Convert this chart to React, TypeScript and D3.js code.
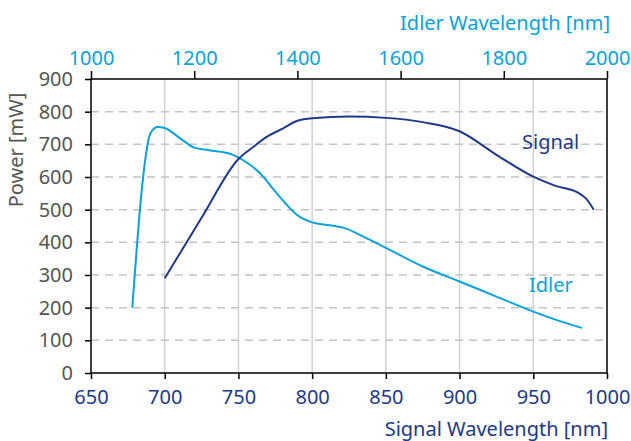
import React, { useEffect, useRef } from 'react';
import * as d3 from 'd3';

// signal power vs signal wavelength
const signalData: [number, number][] = [
  [700, 290], [725, 475], [750, 655], [760, 692], [770, 725], [780, 748],
  [790, 772], [800, 780], [825, 785], [850, 781], [875, 768], [900, 740],
  [925, 668], [950, 601], [965, 573], [980, 553], [986, 533], [991, 500],
];

// idler power, placed on the signal wavelength axis
const idlerData: [number, number][] = [
  [678, 200], [681, 380], [684, 540], [687, 660], [690, 730], [695, 753],
  [700, 750], [710, 720], [720, 690], [730, 682], [745, 670], [753, 652],
  [765, 610], [776, 550], [790, 483], [800, 461], [812, 452], [823, 442],
  [835, 417], [850, 383], [875, 326], [900, 280], [925, 234], [950, 188],
  [966, 162], [983, 138],
];

const signalTicks = [650, 700, 750, 800, 850, 900, 950, 1000];
const idlerTicks = [1000, 1200, 1400, 1600, 1800, 2000];
const powerTicks = [0, 100, 200, 300, 400, 500, 600, 700, 800, 900];

const SIGNAL = '#21398a';
const IDLER = '#0aa2dc';
const GREY = '#555555';
const FONT = '"Noto Sans", sans-serif';
const FS = 20;

const App: React.FC = () => {
  const svgRef = useRef<SVGSVGElement | null>(null);

  useEffect(() => {
    const width = 631;
    const height = 441;
    const margin = { top: 79, right: 24, bottom: 68, left: 91 };

    const x = d3.scaleLinear().domain([650, 1000]).range([margin.left, width - margin.right]);
    const xTop = d3.scaleLinear().domain([1000, 2000]).range([margin.left, width - margin.right]);
    const y = d3.scaleLinear().domain([0, 900]).range([height - margin.bottom, margin.top]);

    const svg = d3.select(svgRef.current)
      .attr('width', width)
      .attr('height', height);
    svg.selectAll('*').remove();

    // vertical grid (solid)
    svg.append('g')
      .selectAll('line')
      .data(signalTicks.slice(1, -1))
      .join('line')
      .attr('x1', d => x(d)).attr('x2', d => x(d))
      .attr('y1', y(0)).attr('y2', y(900))
      .attr('stroke', '#d3d3d3')
      .attr('stroke-width', 1.5);

    // horizontal grid (dashed)
    svg.append('g')
      .selectAll('line')
      .data(powerTicks.slice(1, -1))
      .join('line')
      .attr('x1', x(650)).attr('x2', x(1000))
      .attr('y1', d => y(d)).attr('y2', d => y(d))
      .attr('stroke', '#c4c4c4')
      .attr('stroke-width', 1.5)
      .attr('stroke-dasharray', '8,6');

    const line = d3.line<[number, number]>()
      .x(d => x(d[0]))
      .y(d => y(d[1]))
      .curve(d3.curveMonotoneX);

    svg.append('path')
      .datum(idlerData)
      .attr('fill', 'none')
      .attr('stroke', IDLER)
      .attr('stroke-width', 2)
      .attr('d', line);

    svg.append('path')
      .datum(signalData)
      .attr('fill', 'none')
      .attr('stroke', SIGNAL)
      .attr('stroke-width', 2)
      .attr('d', line);

    // frame
    svg.append('rect')
      .attr('x', x(650)).attr('y', y(900))
      .attr('width', x(1000) - x(650))
      .attr('height', y(0) - y(900))
      .attr('fill', 'none')
      .attr('stroke', '#000')
      .attr('stroke-width', 1.5);

    // bottom axis
    const bottom = svg.append('g')
      .attr('transform', `translate(0,${y(0)})`)
      .call(d3.axisBottom(x).tickValues(signalTicks).tickSize(6).tickPadding(11).tickFormat(d3.format('d')));
    bottom.select('.domain').remove();
    bottom.selectAll('line').attr('stroke', '#000').attr('stroke-width', 1.5);
    bottom.selectAll('text').attr('fill', SIGNAL).attr('font-size', FS).attr('font-family', FONT);

    // top axis
    const top = svg.append('g')
      .attr('transform', `translate(0,${y(900)})`)
      .call(d3.axisTop(xTop).tickValues(idlerTicks).tickSize(8).tickPadding(6).tickFormat(d3.format('d')));
    top.select('.domain').remove();
    top.selectAll('line').attr('stroke', '#000').attr('stroke-width', 1.5);
    top.selectAll('text').attr('fill', IDLER).attr('font-size', FS).attr('font-family', FONT);

    // left axis
    const left = svg.append('g')
      .attr('transform', `translate(${x(650)},0)`)
      .call(d3.axisLeft(y).tickValues(powerTicks).tickSize(6).tickPadding(12));
    left.select('.domain').remove();
    left.selectAll('line').attr('stroke', '#000').attr('stroke-width', 1.5);
    left.selectAll('text').attr('fill', GREY).attr('font-size', FS).attr('font-family', FONT);

    // titles
    svg.append('text')
      .attr('x', 610).attr('y', 30)
      .attr('text-anchor', 'end')
      .attr('fill', IDLER)
      .attr('font-size', FS).attr('font-family', FONT)
      .text('Idler Wavelength [nm]');

    svg.append('text')
      .attr('x', 608).attr('y', 436)
      .attr('text-anchor', 'end')
      .attr('fill', SIGNAL)
      .attr('font-size', FS).attr('font-family', FONT)
      .text('Signal Wavelength [nm]');

    svg.append('text')
      .attr('transform', 'translate(23,150) rotate(-90)')
      .attr('text-anchor', 'middle')
      .attr('fill', GREY)
      .attr('font-size', FS).attr('font-family', FONT)
      .text('Power [mW]');

    // series labels
    svg.append('text')
      .attr('x', 522).attr('y', 149)
      .attr('fill', SIGNAL)
      .attr('font-size', FS).attr('font-family', FONT)
      .text('Signal');

    svg.append('text')
      .attr('x', 529).attr('y', 292)
      .attr('fill', IDLER)
      .attr('font-size', FS).attr('font-family', FONT)
      .text('Idler');
  }, []);

  return (
    <svg ref={svgRef} style={{ position: 'absolute', left: 0, top: 0, background: '#fff' }}></svg>
  );
};

export default App;
